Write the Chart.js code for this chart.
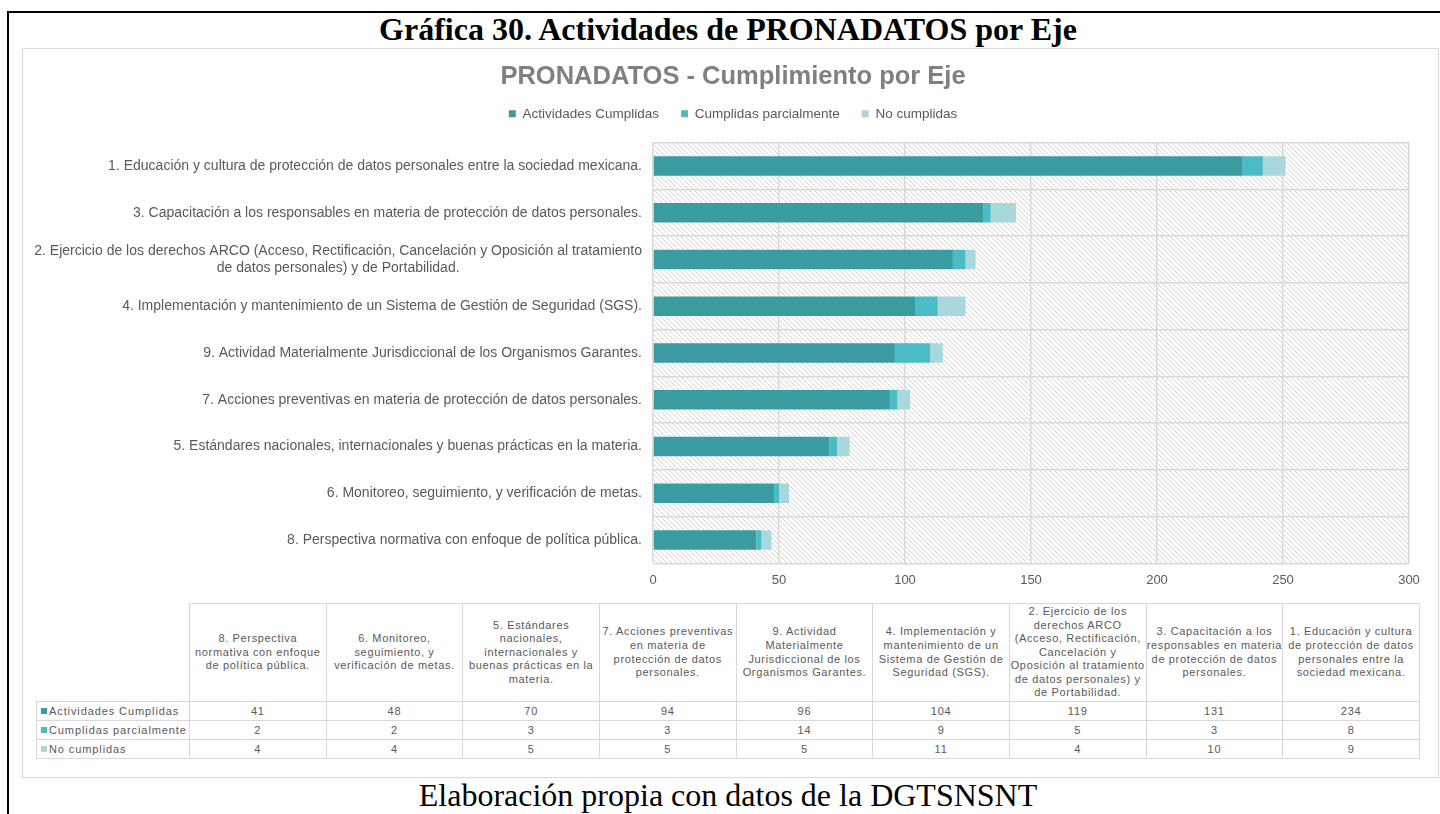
<!DOCTYPE html>
<html lang="es">
<head>
<meta charset="utf-8">
<title>Gráfica 30. Actividades de PRONADATOS por Eje</title>
<script src="https://cdn.jsdelivr.net/npm/chart.js@4.4.1/dist/chart.umd.min.js"></script>
<style>
  body { margin: 0; background: #fff; width: 1440px; height: 814px; overflow: hidden; position: relative; font-family: "Liberation Sans", Arial, sans-serif; }
  #marco { position: absolute; left: 7px; top: 11px; width: 1500px; height: 900px; border-left: 2px solid #000; border-top: 2px solid #000; }
  #titulo { position: absolute; left: 0; top: 12px; width: 1456px; text-align: center; font: bold 32px/34px "Liberation Serif", serif; color: #000; }
  #caja { position: absolute; left: 22px; top: 48px; width: 1415px; height: 728px; border: 1px solid #d9d9d9; background: #fff; }
  #chart-wrap { position: absolute; left: 0; top: 0; width: 1415px; height: 552px; }
  #tabla { position: absolute; left: 13px; top: 554px; width: 1384px; border-collapse: collapse; table-layout: fixed; color: #595959; font-size: 11px; letter-spacing: 0.65px; }
  #tabla th, #tabla td { border: 1px solid #d9d9d9; text-align: center; vertical-align: middle; padding: 0; font-weight: normal; }
  #tabla th { height: 97px; line-height: 13.6px; }
  #tabla td { height: 18px; line-height: 18px; letter-spacing: 0.8px; }
  #tabla th.vacio { border-top: none; border-left: none; }
  #tabla td.serie { text-align: left; padding-left: 4px; white-space: nowrap; letter-spacing: 0.9px; }
  .clave { display: inline-block; width: 6px; height: 6px; margin-right: 2px; vertical-align: 1px; }
  #fuente { position: absolute; left: 0; top: 780px; width: 1456px; text-align: center; font: 32px/30px "Liberation Serif", serif; color: #000; }
</style>
</head>
<body>
<div id="marco"></div>
<div id="titulo">Gráfica 30. Actividades de PRONADATOS por Eje</div>
<div id="caja">
  <div id="chart-wrap"><canvas id="grafica"></canvas></div>
  <table id="tabla"></table>
</div>
<div id="fuente">Elaboración propia con datos de la DGTSNSNT</div>

<script>
// Ejes en el orden de la tabla (de abajo hacia arriba en la gráfica)
const ejes = [
  "8. Perspectiva normativa con enfoque de política pública.",
  "6. Monitoreo, seguimiento, y verificación de metas.",
  "5. Estándares nacionales, internacionales y buenas prácticas en la materia.",
  "7. Acciones preventivas en materia de protección de datos personales.",
  "9. Actividad Materialmente Jurisdiccional de los Organismos Garantes.",
  "4. Implementación y mantenimiento de un Sistema de Gestión de Seguridad (SGS).",
  "2. Ejercicio de los derechos ARCO (Acceso, Rectificación, Cancelación y Oposición al tratamiento de datos personales) y de Portabilidad.",
  "3. Capacitación a los responsables en materia de protección de datos personales.",
  "1. Educación y cultura de protección de datos personales entre la sociedad mexicana."
];
const cumplidas = [41, 48, 70, 94, 96, 104, 119, 131, 234];
const parciales = [2, 2, 3, 3, 14, 9, 5, 3, 8];
const noCumplidas = [4, 4, 5, 5, 5, 11, 4, 10, 9];
const xTicks = [0, 50, 100, 150, 200, 250, 300];

const series = [
  { label: "Actividades Cumplidas", data: cumplidas, color: "#3a9ca0" },
  { label: "Cumplidas parcialmente", data: parciales, color: "#4bbcc5" },
  { label: "No cumplidas", data: noCumplidas, color: "#a8d8dc" }
];

const GRIS = "#595959";
const LINEA = "#d9d9d9";
const FUENTE_EJE = 14;

// etiqueta larga del eje: se parte en dos líneas
function partir(txt) {
  const max = 98;
  if (txt.length <= max) return txt;
  const corte = txt.lastIndexOf(" ", max);
  return [txt.slice(0, corte), txt.slice(corte + 1)];
}

/* fondo rayado del área de trazado */
const rayado = {
  id: "rayado",
  beforeDraw(chart) {
    const { ctx, chartArea: a } = chart;
    const s = 5;
    const c = document.createElement("canvas");
    c.width = s; c.height = s;
    const p = c.getContext("2d");
    p.strokeStyle = "#d4d4d4";
    p.lineWidth = 1;
    for (const k of [-s, 0, s]) {
      p.beginPath();
      p.moveTo(k, 0);
      p.lineTo(k + s, s);
      p.stroke();
    }
    ctx.save();
    ctx.fillStyle = ctx.createPattern(c, "repeat");
    ctx.fillRect(a.left, a.top, a.right - a.left, a.bottom - a.top);
    ctx.restore();
  }
};

/* etiquetas del eje Y: bloque alineado a la derecha, líneas centradas (como Excel) */
const etiquetasEje = {
  id: "etiquetasEje",
  afterDraw(chart) {
    const { ctx, chartArea, scales: { y } } = chart;
    const lh = FUENTE_EJE * 1.2;
    ctx.save();
    ctx.font = `${FUENTE_EJE}px "Liberation Sans"`;
    ctx.fillStyle = GRIS;
    ctx.textAlign = "center";
    ctx.textBaseline = "middle";
    y.ticks.forEach((t, i) => {
      const lineas = [].concat(chart.data.labels[i]);
      const ancho = Math.max(...lineas.map((l) => ctx.measureText(l).width));
      const cx = chartArea.left - 11 - ancho / 2;
      const y0 = y.getPixelForTick(i) - ((lineas.length - 1) * lh) / 2;
      lineas.forEach((l, j) => ctx.fillText(l, cx, y0 + j * lh));
    });
    ctx.restore();
  }
};

/* espacio extra bajo la leyenda */
const margenLeyenda = {
  id: "margenLeyenda",
  beforeInit(chart) {
    const fit = chart.legend.fit;
    chart.legend.fit = function () {
      fit.bind(chart.legend)();
      this.height += 12;
    };
  }
};

/* título y leyenda centrados en todo el recuadro, no sólo sin el margen derecho */
const centrar = {
  id: "centrar",
  afterLayout(chart) {
    const d = 17;
    for (const b of [chart.titleBlock, chart.legend]) {
      b.left += d;
      b.right += d;
    }
  }
};

new Chart(document.getElementById("grafica"), {
  type: "bar",
  data: {
    labels: ejes.map(partir),
    datasets: series.map((s) => ({
      label: s.label,
      data: s.data,
      backgroundColor: s.color,
      borderWidth: 0,
      barPercentage: 0.42,
      categoryPercentage: 1
    }))
  },
  options: {
    indexAxis: "y",
    responsive: true,
    maintainAspectRatio: false,
    animation: false,
    layout: { padding: { top: 0, right: 29, bottom: 4, left: 0 } },
    scales: {
      x: {
        stacked: true,
        min: 0,
        max: 300,
        afterBuildTicks(scale) { scale.ticks = xTicks.map((v) => ({ value: v })); },
        ticks: { color: GRIS, font: { family: "Liberation Sans", size: 13 }, padding: 9 },
        grid: { color: LINEA, lineWidth: 1.5, drawTicks: false },
        border: { display: false }
      },
      y: {
        stacked: true,
        reverse: true,
        afterFit(scale) { scale.width = 630; },
        ticks: { display: false },
        grid: { color: LINEA, lineWidth: 1.5, drawTicks: false },
        border: { display: false }
      }
    },
    plugins: {
      title: {
        display: true,
        text: "PRONADATOS - Cumplimiento por Eje",
        color: "#808080",
        font: { family: "Liberation Sans", size: 25.5, weight: "bold" },
        padding: { top: 12.5, bottom: -7 }
      },
      legend: {
        position: "top",
        labels: {
          color: GRIS,
          font: { family: "Liberation Sans", size: 13.5 },
          boxWidth: 7,
          boxHeight: 7,
          padding: 22
        }
      },
      tooltip: { enabled: false }
    }
  },
  plugins: [rayado, etiquetasEje, margenLeyenda, centrar]
});

/* tabla de datos bajo la gráfica */
function armarTabla() {
  const t = document.getElementById("tabla");
  let h = '<colgroup><col style="width:153px">' + ejes.map(() => "<col>").join("") + "</colgroup>";
  h += '<tr><th class="vacio"></th>' + ejes.map((e) => `<th>${e}</th>`).join("") + "</tr>";
  series.forEach((s) => {
    h += `<tr><td class="serie"><span class="clave" style="background:${s.color}"></span>${s.label}</td>`;
    h += s.data.map((v) => `<td>${v}</td>`).join("") + "</tr>";
  });
  t.innerHTML = h;
}
armarTabla();
</script>
</body>
</html>
